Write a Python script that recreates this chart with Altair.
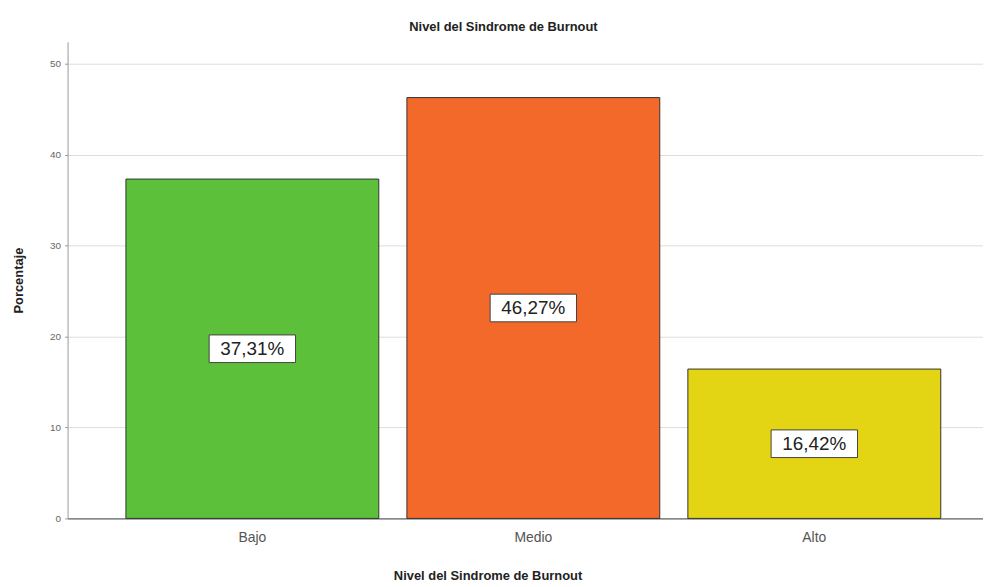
import altair as alt
import pandas as pd

categories = ["Bajo", "Medio", "Alto"]
values = [37.31, 46.27, 16.42]
labels = ["37,31%", "46,27%", "16,42%"]
colors = ["#5DC03A", "#F2692A", "#E3D513"]

df = pd.DataFrame({"cat": categories, "val": values, "lab": labels})

x = alt.X("cat:N", sort=categories,
          scale=alt.Scale(paddingInner=0.1, paddingOuter=0.179, align=0.58),
          axis=alt.Axis(title="Nivel del Sindrome de Burnout", labelAngle=0,
                        labelFont="Liberation Sans", labelFontSize=14, labelColor="#555555",
                        labelPadding=12, ticks=False, domainColor="#444444",
                        titleFont="Liberation Sans", titleFontSize=13, titleFontWeight="bold",
                        titleColor="#222222", titlePadding=26, titleX=423))

base = alt.Chart(df).encode(x=x)

bars = base.mark_bar(stroke="#333333", strokeWidth=1).encode(
    y=alt.Y("val:Q", scale=alt.Scale(domain=[0, 52.4], nice=False),
            axis=alt.Axis(title="Porcentaje", values=[0, 10, 20, 30, 40, 50],
                          labelFont="Liberation Sans", labelFontSize=10, labelColor="#666666",
                          tickSize=3, tickColor="#999999", labelPadding=4,
                          domainColor="#999999", gridColor="#DDDDDD", grid=True,
                          titleFont="Liberation Sans", titleFontSize=13, titleFontWeight="bold",
                          titleColor="#222222", titlePadding=24)),
    color=alt.Color("cat:N", sort=categories,
                    scale=alt.Scale(domain=categories, range=colors), legend=None),
)

mid = base.transform_calculate(half="datum.val / 2")

boxes = mid.mark_point(
    shape="M-1,-0.32L1,-0.32L1,0.32L-1,0.32Z",
    size=7569, filled=True, fill="white", stroke="#444444", strokeWidth=1, opacity=1,
).encode(y=alt.Y("half:Q"))

texts = mid.mark_text(font="Liberation Sans", fontSize=19, color="#222222").encode(
    y=alt.Y("half:Q"), text="lab:N")

chart = alt.layer(bars, boxes, texts).properties(
    width=922, height=480,
    title=alt.TitleParams("Nivel del Sindrome de Burnout", font="Liberation Sans",
                          fontSize=13, fontWeight="bold", color="#222222",
                          anchor="middle", dx=-22, offset=8),
    autosize=alt.AutoSizeParams(type="none"),
    padding={"left": 60, "top": 32, "right": 0, "bottom": 66},
).configure_view(stroke=None).configure_axis(grid=False).configure_axisY(grid=True)

chart.save("out.html", embed_options={"renderer": "svg", "actions": False})
